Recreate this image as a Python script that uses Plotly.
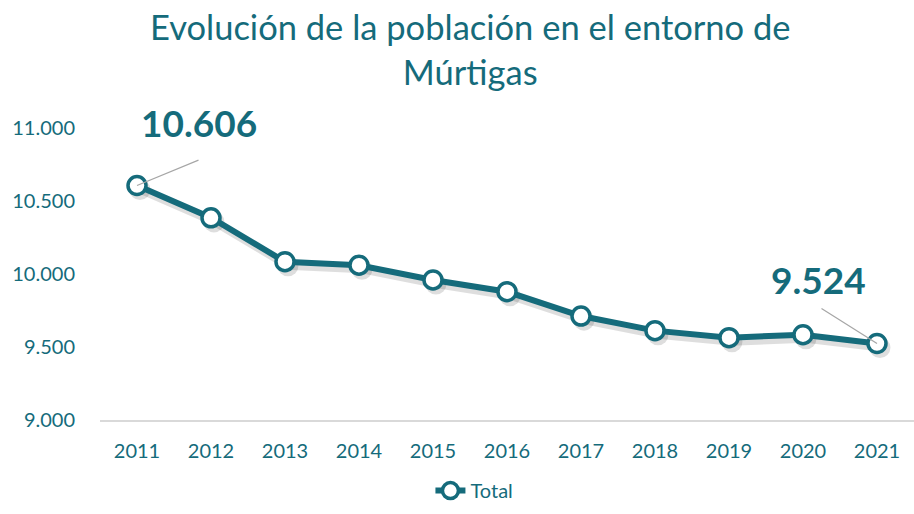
import plotly.graph_objects as go

years = [2011, 2012, 2013, 2014, 2015, 2016, 2017, 2018, 2019, 2020, 2021]
total = [10606, 10385, 10084, 10060, 9959, 9879, 9712, 9612, 9564, 9584, 9524]
y_ticks = [9000, 9500, 10000, 10500, 11000]
y_tick_text = ["9.000", "9.500", "10.000", "10.500", "11.000"]
title_text = "Evolución de la población en el entorno de<br>Múrtigas"

TEAL = "#156B7B"
FONT = "Lato"

fig = go.Figure()

# soft shadow (same data, drawn on the hidden base axes with a slightly offset range)
fig.add_trace(go.Scatter(
    x=years, y=total, mode="lines+markers", xaxis="x", yaxis="y",
    line=dict(color="rgba(0,0,0,0.13)", width=8),
    marker=dict(size=21, color="rgba(0,0,0,0.13)", line=dict(width=0)),
    showlegend=False, hoverinfo="skip"))

fig.add_trace(go.Scatter(
    x=years, y=total, mode="lines+markers", name="Total", xaxis="x2", yaxis="y2",
    line=dict(color=TEAL, width=6),
    marker=dict(size=18, color="white", line=dict(color=TEAL, width=3.5)),
))

def fmt(v):
    return f"{v:,}".replace(",", ".")

# leader lines
fig.add_annotation(x=years[0], y=total[0], xref="x2", yref="y2", text="",
                   showarrow=True, arrowhead=0, arrowwidth=1.2, arrowcolor="#A6A6A6",
                   ax=63, ay=-26)
fig.add_annotation(x=years[-1], y=total[-1], xref="x2", yref="y2", text="",
                   showarrow=True, arrowhead=0, arrowwidth=1.2, arrowcolor="#A6A6A6",
                   ax=-57, ay=-36)
# data labels
fig.add_annotation(x=years[0], y=total[0], xref="x2", yref="y2",
                   text=f"<b>{fmt(total[0])}</b>", showarrow=False,
                   xshift=62, yshift=63,
                   font=dict(family=FONT, size=37, color=TEAL))
fig.add_annotation(x=years[-1], y=total[-1], xref="x2", yref="y2",
                   text=f"<b>{fmt(total[-1])}</b>", showarrow=False,
                   xshift=-59, yshift=64,
                   font=dict(family=FONT, size=37, color=TEAL))

fig.add_annotation(xref="paper", yref="paper", x=0.455, y=1.0, yshift=124,
                   xanchor="center", yanchor="top", showarrow=False,
                   text=title_text,
                   font=dict(family=FONT, size=34.5, color=TEAL))

fig.update_layout(
    width=914, height=514,
    margin=dict(l=100, r=0, t=128, b=94),
    paper_bgcolor="white", plot_bgcolor="white",
    xaxis=dict(range=[2010.46, 2021.46], visible=False),
    yaxis=dict(range=[9028, 11028], visible=False),
    xaxis2=dict(overlaying="x", side="bottom", range=[2010.5, 2021.5], tickvals=years,
                ticktext=[str(y) for y in years],
                showgrid=False, zeroline=False, showline=True, linecolor="#D9D9D9",
                linewidth=1.5, ticks="", tickfont=dict(family=FONT, size=20, color=TEAL),
                ticklabelstandoff=12),
    yaxis2=dict(overlaying="y", side="left", range=[9000, 11000], tickvals=y_ticks,
                ticktext=y_tick_text,
                showgrid=False, zeroline=False, ticks="", ticklabelstandoff=24,
                tickfont=dict(family=FONT, size=20, color=TEAL)),
    legend=dict(orientation="h", x=0.46, xanchor="center", y=-0.175, yanchor="top",
                font=dict(family=FONT, size=20, color=TEAL)),
    showlegend=True,
)

fig.write_html("out.html", post_script="document.body.style.margin='0';",
               config={"displayModeBar": False})
